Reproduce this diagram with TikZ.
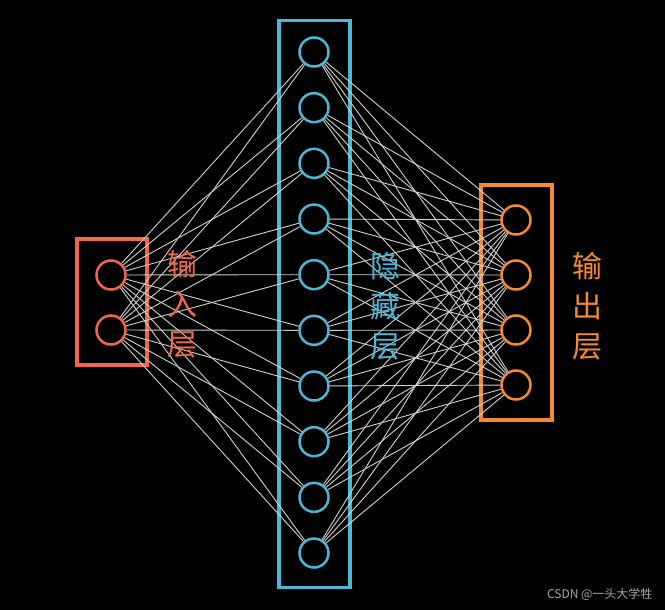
\documentclass[tikz,border=0pt]{standalone}
\usepackage{fontspec}
\newfontfamily\cjk{Noto Sans CJK SC}
\usetikzlibrary{positioning}
\definecolor{inred}{HTML}{F0674C}
\definecolor{hidblue}{HTML}{4CB6D6}
\definecolor{outorange}{HTML}{F58A2C}

\begin{document}
\begin{tikzpicture}[x=1pt,y=-1pt,
  neuron/.style={circle,draw,line width=2.5pt,minimum size=29pt,inner sep=0pt},
  layerbox/.style={draw,line width=3.5pt,inner sep=0pt},
  lbl/.style={font=\cjk\fontsize{30}{40}\selectfont,align=center},
  link/.style={draw=white!82!black,line width=0.9pt}]

  \fill[black] (0,0) rectangle (665,610);
  \useasboundingbox (0,0) rectangle (665,610);

  % layer boxes
  \node[layerbox,draw=inred,minimum width=70pt,minimum height=126pt] (inbox) at (112,302) {};
  \node[layerbox,draw=hidblue,minimum width=71pt,minimum height=567pt] (hidbox) at (314.5,304) {};
  \node[layerbox,draw=outorange,minimum width=71pt,minimum height=235pt] (outbox) at (516.5,302.5) {};

  % neurons
  \foreach \i/\y in {1/275,2/330}
    \node[neuron,draw=inred] (in\i) at (111,\y) {};
  \foreach \i in {1,...,10}
    \node[neuron,draw=hidblue] (h\i) at (314,{52+55.67*(\i-1)}) {};
  \foreach \i/\y in {1/220,2/275,3/330,4/385}
    \node[neuron,draw=outorange] (out\i) at (516,\y) {};

  % connections
  \foreach \i in {1,2}
    \foreach \j in {1,...,10}
      \draw[link] (in\i) -- (h\j);
  \foreach \j in {1,...,10}
    \foreach \k in {1,...,4}
      \draw[link] (h\j) -- (out\k);

  % layer names
  \node[lbl,text=inred] (inname) at (182,304) {输\\入\\层};
  \node[lbl,text=hidblue] (hidname) at (385,306) {隐\\藏\\层};
  \node[lbl,text=outorange] (outname) at (587,306) {输\\出\\层};

  \node[font=\cjk\fontsize{12}{14}\selectfont,text=white!65!black,anchor=east] (mark) at (656,594) {CSDN @一头大学牲};
\end{tikzpicture}
\end{document}
